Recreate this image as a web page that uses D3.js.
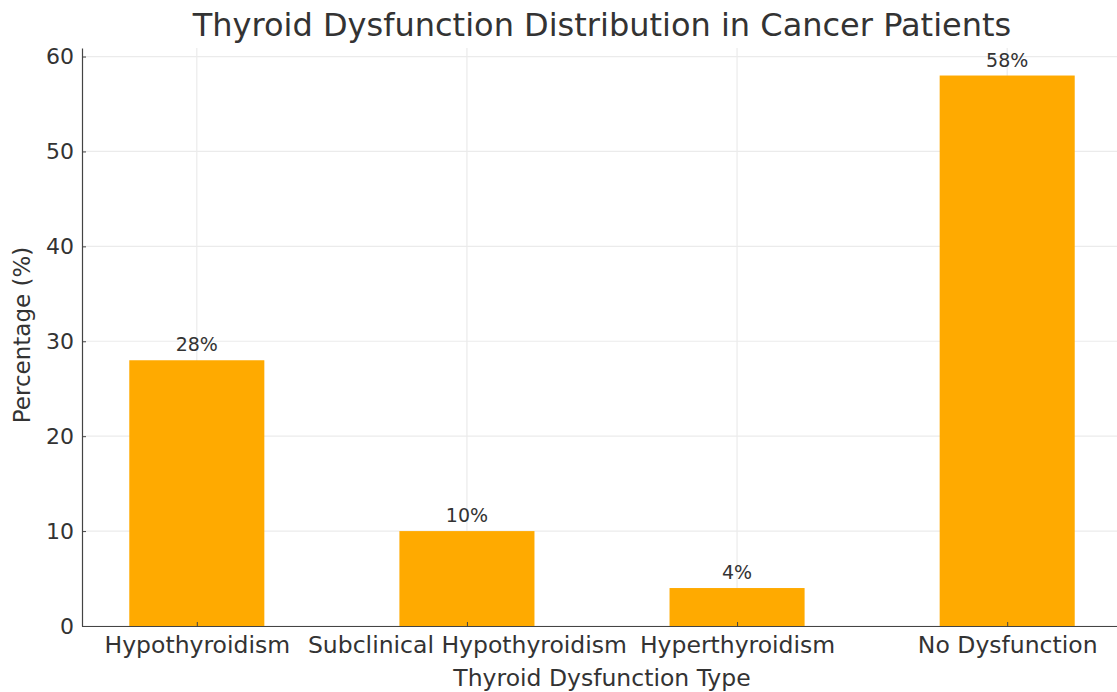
<!DOCTYPE html>
<html>
<head>
<meta charset="utf-8">
<script src="https://cdn.jsdelivr.net/npm/d3@7"></script>
<style>
  html, body { margin: 0; padding: 0; background: #fff; }
  svg { display: block; font-family: "DejaVu Sans", sans-serif; }
</style>
</head>
<body>
<svg id="chart" width="1117" height="692"></svg>
<script>
// Share of cancer patients by thyroid status
const categories = ["Hypothyroidism", "Subclinical Hypothyroidism", "Hyperthyroidism", "No Dysfunction"];
const percentages = [28, 10, 4, 58];
const yTicks = [0, 10, 20, 30, 40, 50, 60];

const margin = { left: 82, top: 48 };
const plotRight = 1122;   // axes run slightly past the canvas edge
const plotBottom = 626;

const svg = d3.select("#chart");

// Bars half a step wide, 5% padding on either side of the data range
const x = d3.scaleLinear()
  .domain([-0.425, categories.length - 1 + 0.425])
  .range([margin.left, plotRight]);
const barHalf = 0.25;

const y = d3.scaleLinear()
  .domain([0, d3.max(percentages) * 1.05])
  .range([plotBottom, margin.top]);

const textColor = "#333";
const gridColor = "#ebebeb";
const axisColor = "#444";

// Grid
const grid = svg.append("g");
grid.selectAll("line.h").data(yTicks).join("line")
  .attr("x1", margin.left).attr("x2", plotRight)
  .attr("y1", d => y(d)).attr("y2", d => y(d))
  .attr("stroke", gridColor).attr("stroke-width", 1.2);
grid.selectAll("line.v").data(categories).join("line")
  .attr("x1", (d, i) => x(i)).attr("x2", (d, i) => x(i))
  .attr("y1", y.range()[1]).attr("y2", y(0))
  .attr("stroke", gridColor).attr("stroke-width", 1.2);

// Bars
svg.append("g").selectAll("rect").data(percentages).join("rect")
  .attr("x", (d, i) => x(i - barHalf))
  .attr("width", (d, i) => x(i + barHalf) - x(i - barHalf))
  .attr("y", d => y(d))
  .attr("height", d => y(0) - y(d))
  .attr("fill", "#ffaa00");

// Value labels above bars
svg.append("g").selectAll("text").data(percentages).join("text")
  .attr("x", (d, i) => x(i))
  .attr("y", d => y(d) - 9)
  .attr("text-anchor", "middle")
  .attr("fill", textColor)
  .style("font-size", "19px")
  .text(d => d + "%");

// Axes (ticks pointing into the plot)
const yAxis = d3.axisLeft(y).tickValues(yTicks).tickSizeInner(-4).tickSizeOuter(0).tickPadding(8);
const yg = svg.append("g").attr("transform", `translate(${margin.left},0)`).call(yAxis);
yg.select(".domain").attr("stroke", axisColor).attr("stroke-width", 1.2);
yg.selectAll(".tick line").attr("stroke", axisColor);
yg.selectAll(".tick text").attr("fill", textColor).style("font-size", "22px")
  .style("font-family", "DejaVu Sans, sans-serif");

const xAxis = d3.axisBottom(x).tickValues(d3.range(categories.length))
  .tickFormat(i => categories[i]).tickSizeInner(-4).tickSizeOuter(0).tickPadding(10);
const xg = svg.append("g").attr("transform", `translate(0,${y(0)})`).call(xAxis);
xg.select(".domain").attr("stroke", axisColor).attr("stroke-width", 1.2);
xg.selectAll(".tick line").attr("stroke", axisColor);
xg.selectAll(".tick text").attr("fill", textColor).style("font-size", "23.5px")
  .style("font-family", "DejaVu Sans, sans-serif");

// Title and axis titles
svg.append("text")
  .attr("x", (margin.left + plotRight) / 2).attr("y", 36)
  .attr("text-anchor", "middle").attr("fill", textColor)
  .style("font-size", "32px")
  .text("Thyroid Dysfunction Distribution in Cancer Patients");

svg.append("text")
  .attr("x", (margin.left + plotRight) / 2).attr("y", 686)
  .attr("text-anchor", "middle").attr("fill", textColor)
  .style("font-size", "23.5px")
  .text("Thyroid Dysfunction Type");

svg.append("text")
  .attr("transform", `translate(30,335) rotate(-90)`)
  .attr("text-anchor", "middle").attr("fill", textColor)
  .style("font-size", "23px")
  .text("Percentage (%)");
</script>
</body>
</html>
